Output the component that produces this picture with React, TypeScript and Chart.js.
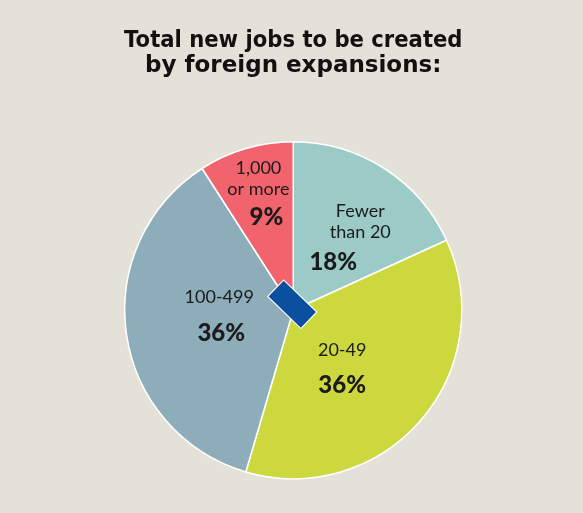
import React, { useEffect, useRef } from "react";
import { Chart, registerables } from "chart.js";

Chart.register(...registerables);

const categories = ["Fewer than 20", "20-49", "100-499", "1,000 or more"];
const values = [18, 36, 36, 9];
const nameLines = [["Fewer", "than 20"], ["20-49"], ["100-499"], ["1,000", "or more"]];
const pctLabels = ["18%", "36%", "36%", "9%"];
const colors = ["#9ccbc7", "#cdd73e", "#8eadbb", "#f1636d"];
const titleLines = ["Total new jobs to be created", "by foreign expansions:"];

// label placement per slice: radius fraction, angle nudge (deg), gap before %, x shift of %
const labelPlace = [
  { frac: 0.592, nudge: 9.5, gap: 30, pctDx: -27 },
  { frac: 0.448, nudge: 8.7, gap: 35, pctDx: 0 },
  { frac: 0.44, nudge: 4.3, gap: 36, pctDx: 2 },
  { frac: 0.73, nudge: -0.1, gap: 28, pctDx: 8 },
];

const FONT = "Lato, 'Open Sans', sans-serif";
const TITLE_FONT = "'DejaVu Sans', sans-serif";

const labelPlugin = {
  id: "sliceLabels",
  afterDatasetsDraw(chart: any) {
    const ctx = chart.ctx;
    const meta = chart.getDatasetMeta(0);
    let cx0 = 0, cy0 = 0;
    meta.data.forEach((arc: any, i: number) => {
      const p = arc.getProps(["x", "y", "startAngle", "endAngle", "outerRadius"], true);
      cx0 = p.x; cy0 = p.y;
      const R = p.outerRadius;
      const pl = labelPlace[i];
      const mid = (p.startAngle + p.endAngle) / 2 + (pl.nudge * Math.PI) / 180;
      const ax = p.x + Math.cos(mid) * R * pl.frac;
      const ay = p.y + Math.sin(mid) * R * pl.frac;
      const lines = nameLines[i];
      const lh = 21;
      const block = (lines.length - 1) * lh + pl.gap;
      let y = ay - block / 2;
      ctx.save();
      ctx.fillStyle = "#1b1b1b";
      ctx.textAlign = "center";
      ctx.textBaseline = "middle";
      ctx.font = `400 18px ${FONT}`;
      lines.forEach((t, k) => {
        ctx.fillText(t, ax, y + k * lh);
      });
      y = y + (lines.length - 1) * lh + pl.gap;
      ctx.font = `900 24px ${FONT}`;
      ctx.fillText(pctLabels[i], ax + pl.pctDx, y);
      ctx.restore();
    });
    // center decoration: rotated blue rectangle
    ctx.save();
    ctx.translate(cx0 - 1, cy0 - 6);
    ctx.rotate(Math.PI / 4 - 0.02);
    ctx.fillStyle = "#0b4f9f";
    ctx.strokeStyle = "#ffffff";
    ctx.lineWidth = 1.2;
    ctx.beginPath();
    ctx.rect(-23, -11.5, 46, 23);
    ctx.fill();
    ctx.stroke();
    ctx.restore();
  },
};

export default function App() {
  const ref = useRef<HTMLCanvasElement>(null);
  useEffect(() => {
    if (!ref.current) return;
    const chart = new Chart(ref.current, {
      type: "pie",
      data: {
        labels: categories,
        datasets: [
          {
            data: values,
            backgroundColor: colors,
            borderColor: "#ffffff",
            borderWidth: 1.5,
          },
        ],
      },
      options: {
        responsive: false,
        animation: false,
        layout: { padding: { left: 124, right: 120.5, top: 0, bottom: 33.5 } },
        plugins: {
          legend: { display: false },
          tooltip: { enabled: false },
          title: {
            display: true,
            text: titleLines,
            color: "#111111",
            font: { family: TITLE_FONT, size: 23, weight: "bold", lineHeight: 1.1 },
            padding: { top: 28, bottom: 62.4 },
          },
        },
      },
      plugins: [labelPlugin],
    });
    return () => chart.destroy();
  }, []);
  return (
    <div
      style={{
        position: "fixed",
        left: 0,
        top: 0,
        width: 583,
        height: 513,
        background: "#e4e1d9",
      }}
    >
      <canvas ref={ref} width={583} height={513} />
    </div>
  );
}
